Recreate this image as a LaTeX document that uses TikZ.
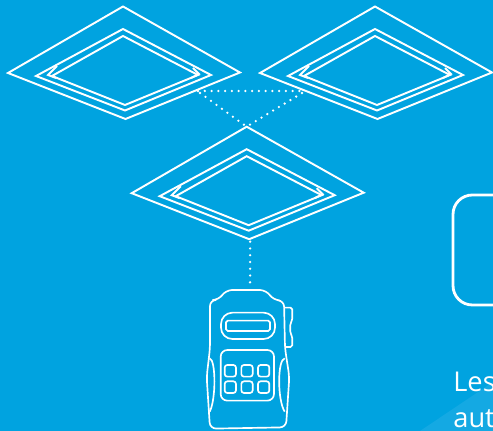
\documentclass[tikz,border=0pt]{standalone}
\usepackage{fontspec}
\setmainfont{Open Sans}
\usepackage{xcolor}
\usetikzlibrary{positioning}
\definecolor{sky}    {HTML}{00A3E0}
\definecolor{skylite}{HTML}{14A9E3}
\tikzset{
  trace/.style={draw=white,line width=1.1pt,line join=miter},
  thin trace/.style={draw=white,line width=0.95pt},
  linkdots/.style={draw=white,line width=1.45pt,line cap=round,dash pattern=on 0pt off 3.85pt},
  roofpanel/.pic={
    \draw[trace] (0,0) -- (-115,66.5) -- (2.5,112.5) -- (117,66) -- cycle;
    \draw[trace] (0,22.5) -- (-87,69.5) -- (2,104) -- (88,68.5) -- cycle;
    \draw[trace] (0,29.5) -- (-71,69.5) -- (2,98.5) -- (75,68.5) -- cycle;
    \draw[trace] (-66,59.5) -- (-75,68.5) -- (-67,71.5);
    \draw[trace] (70,61.5) -- (76,67.5) -- (68,71.5);
    \coordinate (-top) at (0,0);
    \coordinate (-bot) at (3.5,115);
    \coordinate (-se) at (75,84.5);
    \coordinate (-sw) at (-73,84.5);
    \coordinate (-sel) at (77,86.5);
    \coordinate (-swl) at (-73,86.5);
  }
}
\begin{document}
\begin{tikzpicture}[x=0.02cm,y=-0.02cm]
  \useasboundingbox (0,0) rectangle (493,431);
  \clip (0,0) rectangle (493,431);
  \fill[sky] (0,0) rectangle (493,431);
  \fill[skylite] (420,431) -- (493,382) -- (493,431) -- cycle;

  % panels
  \pic (panelL) at (123,6.5) {roofpanel};
  \pic (panelR) at (375,6.5) {roofpanel};
  \pic (panelB) at (246.7,126.7) {roofpanel};

  % handset
  \coordinate (handset) at (250,284);
  \begin{scope}[shift={(190,270)},x=0.00667cm,y=-0.00667cm]
    \draw[thin trace,rounded corners=3.5pt] (86,90) -- (108,60) -- (228,60) -- (250,90) -- (282,92)
      -- (285,235) -- (298,320) -- (288,472) -- (60,476) -- (50,320) -- (60,235) -- (60,90) -- cycle;
    \draw[thin trace,rounded corners=1pt] (285,113) -- (307,113) -- (307,150) -- (301,160) -- (301,190)
      -- (307,200) -- (307,231) -- (285,231);
    \draw[thin trace] (59,265) .. controls (78,270) and (78,390) .. (59,425);
    \draw[thin trace] (284,265) .. controls (262,270) and (262,390) .. (284,425);
    \draw[thin trace,rounded corners=6.5pt] (93,128) rectangle (255,207);
    \draw[thin trace,rounded corners=1pt] (108,152) rectangle (240,183);
    \draw[thin trace,rounded corners=3.8pt] (92,240) rectangle (252,392);
    \foreach \keyx in {104,154,204}
      \foreach \keyy in {285,334}
        \draw[thin trace,rounded corners=1.5pt] (\keyx,\keyy) rectangle ++(34,35);
  \end{scope}

  % links
  \draw[linkdots] (panelL-se) -- (panelR-sw);
  \draw[linkdots] (panelL-sel) -- (panelB-top);
  \draw[linkdots] (panelR-swl) -- (panelB-top);
  \draw[linkdots] (panelB-bot) -- (handset);

  % right column
  \draw[draw=white,line width=1.6pt,rounded corners=11pt] (453,195) rectangle (540,305);
  \node[anchor=base west,inner sep=0pt,text=white,font=\fontsize{15.5}{18}\selectfont] (lesline) at (453,392) {Les};
  \node[anchor=base west,inner sep=0pt,text=white,font=\fontsize{15.5}{18}\selectfont] (autline) at (453,428) {aut};
\end{tikzpicture}
\end{document}
